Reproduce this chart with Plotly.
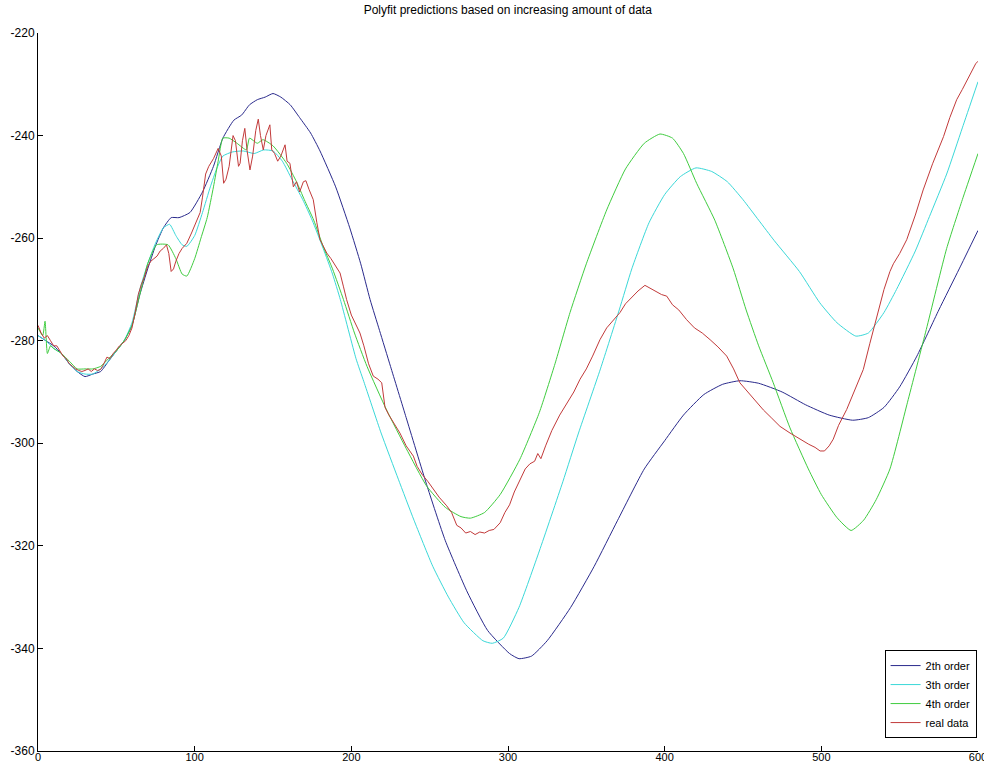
import plotly.graph_objects as go

# ---- series data -------------------------------------------------------
x_fit2 = [0, 5, 10, 15, 20, 25, 30, 35, 40, 45, 50, 55, 60, 65, 70, 75, 80, 85, 90, 97,
          105, 112, 118, 125, 130, 135, 140, 145, 150, 155, 161, 167, 174, 180, 190, 199,
          206, 212, 218, 225, 235, 248, 260, 274, 287, 301, 307, 315, 325, 340, 355, 370,
          387, 400, 412, 425, 437, 448, 460, 475, 490, 505, 520, 530, 540, 550, 561, 575,
          588, 600]
y_fit2 = [-279, -280, -281, -282.5, -284.5, -286, -287, -286.5, -286, -284, -282, -280, -277,
          -271, -266, -261.5, -258, -256, -256, -255, -251, -246, -240.5, -237, -236, -234,
          -233, -232.5, -231.8, -232.5, -234, -236.5, -239.5, -243, -250, -258, -265, -272,
          -278, -285, -295, -308, -319, -329, -336.5, -341, -342, -341.5, -338.5, -332,
          -324, -315, -305, -299.5, -294.5, -290.5, -288.5, -287.8, -288.3, -290, -292.5,
          -294.5, -295.5, -295, -293, -289, -283, -274, -266, -258.5]

x_fit3 = [0, 5, 10, 15, 20, 25, 30, 35, 40, 45, 50, 55, 60, 65, 70, 75, 80, 84, 88, 92, 95,
          100, 105, 110, 114, 118, 124, 131, 138, 144, 150, 156, 162, 169, 175, 182, 188,
          193, 203, 208, 219, 230, 240, 252, 262, 272, 284, 290, 297, 307, 320, 335, 345,
          359, 371, 379, 390, 400, 410, 420, 430, 440, 450, 460, 470, 486, 499, 510, 522,
          530, 540, 548, 560, 569, 580, 590, 600]
y_fit3 = [-279, -280, -281.5, -282.5, -284.5, -286, -286.5, -286.5, -285.5, -284, -282, -280,
          -276.5, -270, -265, -261, -258, -257.3, -259.5, -261.3, -261.6, -259.5, -255,
          -250, -246.5, -244, -243.2, -243, -243.5, -242.8, -243, -245, -248.5, -252.5,
          -256.5, -262, -267, -272, -283.5, -288, -298, -307, -315, -324, -330, -335,
          -338.5, -339, -338, -332, -321, -307.5, -298, -285.5, -274, -266, -257, -251.5,
          -248, -246.3, -247, -249, -252.5, -256.5, -260.5, -266.5, -272.6, -276.5, -279.1,
          -278.5, -274.5, -270, -262.5, -255.8, -247.5, -238.5, -229.5]

x_fit4 = [0, 3, 4.5, 6, 8, 10, 15, 20, 25, 30, 35, 40, 45, 50, 55, 60, 65, 70, 75.7, 83, 88,
          92, 95, 100, 104, 108, 112, 115, 118, 122, 127, 133, 135, 140, 143.6, 150, 158.7,
          165, 170, 176, 182, 188, 195, 202, 210, 222.5, 235, 248, 260, 270, 276, 285, 295,
          307.6, 320, 330, 339.6, 350, 363, 375, 387, 397, 405, 412, 420.4, 432, 443.8, 452,
          460, 469.3, 480, 491.7, 500, 510, 519, 527, 535, 543.8, 555, 567, 580, 590, 600]
y_fit4 = [-277.5, -279, -276.2, -282.5, -281, -281.5, -282.5, -284, -285.5, -285.5, -285.5,
          -285, -283.5, -282, -280, -277, -271, -265, -261.3, -261.3, -264, -267, -267.4,
          -264, -260, -256, -250, -245, -240.5, -240.5, -241.5, -242.8, -240.5, -241.5,
          -240.8, -242, -245.4, -249, -252.5, -256.5, -261.6, -266, -272, -278.5, -285,
          -293.5, -301, -308.3, -312.5, -314.3, -314.6, -313.5, -310, -303.1, -294, -284.5,
          -274.5, -265, -254.5, -246.5, -241.5, -239.7, -240.5, -243.5, -249.3, -256.5,
          -266, -274, -281, -288.2, -297, -305, -310, -314.5, -317, -315, -311, -305, -292,
          -277.8, -262, -252.5, -243.5]

x_real = [0, 2, 4, 6, 8, 10, 12, 14, 16, 18, 20, 22, 24, 26, 28, 30, 32, 34, 36, 38, 40, 42,
          44, 46, 48, 50, 52, 54, 56, 58, 60, 62, 64, 66, 68, 70, 72, 74, 76, 78, 80, 82, 83.5,
          85, 86.5, 88, 90, 92, 95, 98, 101, 103.5, 105, 107, 109, 112, 115, 117, 118.5, 120,
          122, 124.5, 126, 128, 129, 130.5, 132, 133.5, 135.3, 137, 139, 140.6, 142, 143.8,
          145.5, 148, 149.2, 151, 153, 155, 157.7, 159, 160.8, 163, 165, 167, 169.4, 171, 173,
          175.7, 178, 180, 182, 184.3, 187, 190, 192.8, 195, 197, 200, 203, 205.5, 208, 211,
          214, 217, 219.4, 221.5, 224, 227, 231, 235, 239.6, 242, 245, 249, 252.3, 256, 260.9,
          264, 267.3, 270, 273, 276, 279, 282, 285, 288, 291, 295, 298, 301, 304, 307.6, 311,
          314, 317, 319, 321, 324, 328, 333, 338, 342, 346, 350, 354, 358.7, 363, 367, 371.5,
          375, 379, 383, 387.4, 391, 395, 398, 401.3, 405, 409, 414, 419, 424, 429, 434, 439.6,
          444, 448, 453, 458.7, 463, 468, 473.6, 480, 486.4, 492, 496, 499.2, 502, 505, 507.6,
          511, 516.2, 521, 526.8, 531, 535.3, 540, 543.8, 546, 550, 554.5, 560, 565, 571, 578,
          582, 586.4, 590, 594, 598.5, 600]
y_real = [-277, -278.5, -279.5, -279, -280, -281, -281, -282, -283, -283.5, -284.5, -285,
          -285.5, -285.8, -286, -285.8, -285.5, -286, -285.5, -285.8, -285.6, -284.5, -283.2,
          -283.5, -282.5, -281.8, -281, -280.5, -280, -279, -277.5, -274.5, -271, -269,
          -267.5, -265.5, -264.5, -264, -263.5, -262.5, -262, -261.3, -263, -266.5, -266,
          -264.5, -263, -262, -261, -259, -257, -255, -252, -247.5, -246, -244.5, -242.5,
          -244, -249.3, -248.5, -246, -240, -241, -246, -245.4, -241, -238.6, -243, -246.7,
          -244, -239, -236.8, -240, -242.8, -240, -237.9, -242.8, -243.5, -245, -244, -241.8,
          -245, -245.4, -250, -249, -251, -249, -248.8, -250.5, -252.5, -257, -260.3, -261.5,
          -262.9, -264, -265.5, -266.8, -269.5, -272, -275, -277, -278.5, -281, -284.5,
          -286.9, -287.5, -288.2, -293, -294.5, -296, -298, -300.5, -302.5, -304.5, -306,
          -307.5, -309, -310.5, -312.2, -313.5, -316, -316.5, -317.5, -317.2, -317.8, -317.3,
          -317.5, -317, -316.8, -315.5, -313.5, -312, -309.5, -307, -305, -304, -303.5, -302,
          -303, -300.5, -297.5, -294.5, -292, -290, -287.5, -285.5, -283, -279.8, -277.5,
          -276, -274.5, -272.8, -271.5, -270.3, -269.2, -269.8, -270.4, -271, -271.3, -273,
          -274, -275.9, -277.5, -278.5, -279.8, -281.2, -283, -285.5, -288.2, -290, -292.1,
          -293.5, -295, -296.7, -298, -299.2, -300.2, -300.8, -301.5, -301.5, -300.5, -299.2,
          -296.5, -293.4, -290, -285.6, -280.5, -275.5, -270, -266.5, -265, -263, -260.3,
          -255.5, -250.6, -245.5, -240.2, -236.5, -233, -231, -228.5, -226, -225.5]

series_names = ["2th order", "3th order", "4th order", "real data"]
series_colors = ["#2a2a8c", "#3ad8d8", "#3fcc3f", "#c23a3a"]

x_ticks = [0, 100, 200, 300, 400, 500, 600]
y_ticks = [-360, -340, -320, -300, -280, -260, -240, -220]
x_tick_text = [str(v) for v in x_ticks]
y_tick_text = [str(v) for v in y_ticks]   # plain hyphen-minus signs

FONT = "Liberation Sans Narrow, Liberation Sans, Arial, sans-serif"

fig = go.Figure()
fits = [(x_fit2, y_fit2), (x_fit3, y_fit3), (x_fit4, y_fit4)]
for (xs, ys), name, color in zip(fits, series_names[:3], series_colors[:3]):
    fig.add_trace(go.Scatter(x=xs, y=ys, mode="lines", name=name,
                             line=dict(color=color, width=1, shape="spline", smoothing=0.5)))
fig.add_trace(go.Scatter(x=x_real, y=y_real, mode="lines", name=series_names[3],
                         line=dict(color=series_colors[3], width=1)))

axis_common = dict(showline=True, linecolor="black", linewidth=1, ticks="inside",
                   ticklen=5, tickcolor="black", showgrid=False, zeroline=False,
                   mirror=False, automargin=False, ticklabeloverflow="allow")

fig.update_layout(
    width=984, height=762,
    paper_bgcolor="white", plot_bgcolor="white",
    margin=dict(l=38, r=6, t=33, b=11, autoexpand=False),
    title=dict(text="Polyfit predictions based on increasing amount of data",
               x=0.516, xanchor="center", y=0.987, yanchor="middle",
               font=dict(family=FONT, size=12, color="black")),
    xaxis=dict(range=[0, 600], tickvals=x_ticks, ticktext=x_tick_text,
               ticklabelstandoff=-4,
               tickfont=dict(family=FONT, size=11, color="black"), **axis_common),
    yaxis=dict(range=[-360, -220], tickvals=y_ticks, ticktext=y_tick_text,
               tickfont=dict(family=FONT, size=12, color="black"), **axis_common),
    legend=dict(x=0.9985, xanchor="right", y=0.018, yanchor="bottom",
                bgcolor="white", bordercolor="black", borderwidth=1,
                font=dict(family=FONT, size=11, color="black"),
                tracegroupgap=0, itemwidth=30),
    showlegend=True,
)

fig.write_html("out.html")
